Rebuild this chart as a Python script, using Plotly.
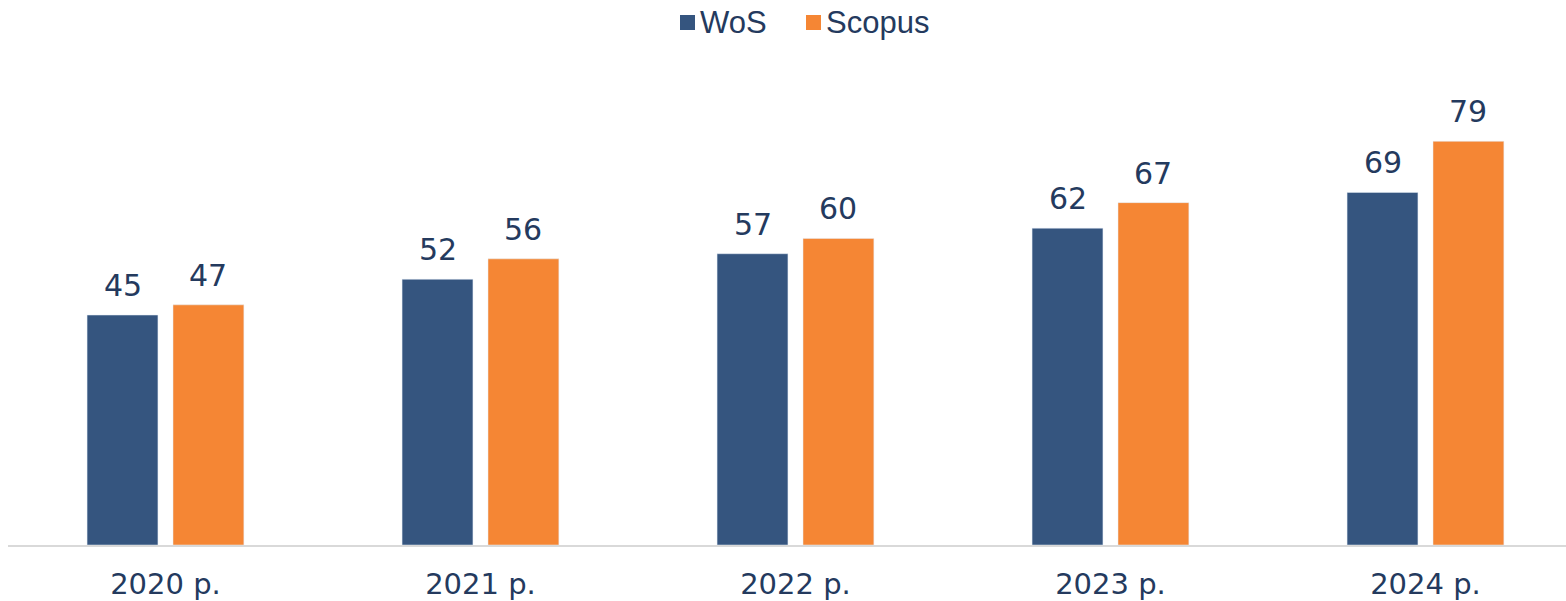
import plotly.graph_objects as go

categories = ["2020 р.", "2021 р.", "2022 р.", "2023 р.", "2024 р."]
wos = [45, 52, 57, 62, 69]
scopus = [47, 56, 60, 67, 79]
series_names = ["WoS", "Scopus"]

WOS_COLOR = "#35557f"
SCOPUS_COLOR = "#f58634"
TEXT_COLOR = "#243a5e"
LABEL_FONT = "DejaVu Sans"

bar_w = 0.225
off_w = -0.249
off_s = 0.0238

# plot area geometry (px)
ML, MR, MT, MB = 8, 0, 60, 56
W, H = 1566, 601
PW, PH = W - ML - MR, H - MT - MB


def px_x(px):
    return (px - ML) / PW


def px_y(py):
    return (H - MB - py) / PH


xs = list(range(len(categories)))

fig = go.Figure()
fig.add_trace(go.Bar(name=series_names[0], x=xs, y=wos, marker_color=WOS_COLOR,
                     width=bar_w, offset=off_w, hoverinfo="skip", showlegend=False))
fig.add_trace(go.Bar(name=series_names[1], x=xs, y=scopus, marker_color=SCOPUS_COLOR,
                     width=bar_w, offset=off_s, hoverinfo="skip", showlegend=False))

for i in xs:
    for vals, off in ((wos, off_w), (scopus, off_s)):
        fig.add_annotation(x=i + off + bar_w / 2, y=vals[i], text=str(vals[i]),
                           showarrow=False, yanchor="bottom", yshift=10,
                           font=dict(family=LABEL_FONT, size=30, color=TEXT_COLOR))

# custom legend
legend_items = [(series_names[0], WOS_COLOR, 680), (series_names[1], SCOPUS_COLOR, 806)]
for name, color, left in legend_items:
    fig.add_shape(type="rect", xref="paper", yref="paper",
                  x0=px_x(left), x1=px_x(left + 15), y0=px_y(30), y1=px_y(15),
                  fillcolor=color, line=dict(width=0))
    fig.add_annotation(xref="paper", yref="paper", x=px_x(left + 18), y=px_y(22.5),
                       xanchor="left", yanchor="middle", showarrow=False, text=name,
                       font=dict(family="Liberation Sans", size=31, color=TEXT_COLOR))

fig.update_layout(
    width=W, height=H,
    margin=dict(l=ML, r=MR, t=MT, b=MB, autoexpand=False),
    paper_bgcolor="white", plot_bgcolor="white",
    barmode="overlay",
    showlegend=False,
    xaxis=dict(range=[-0.5, -0.5 + PW / 315], tickmode="array", tickvals=xs,
               ticktext=categories, showgrid=False, zeroline=False,
               showline=True, linecolor="#d9d9d9", linewidth=2, ticks="",
               ticklabelstandoff=12, automargin=False,
               tickfont=dict(family=LABEL_FONT, size=29, color=TEXT_COLOR)),
    yaxis=dict(range=[0, PH / 5.11], visible=False, showgrid=False, zeroline=False,
               automargin=False),
)

fig.write_html("out.html", config={"displayModeBar": False},
               post_script="document.body.style.margin='0';document.body.style.overflow='hidden';")
